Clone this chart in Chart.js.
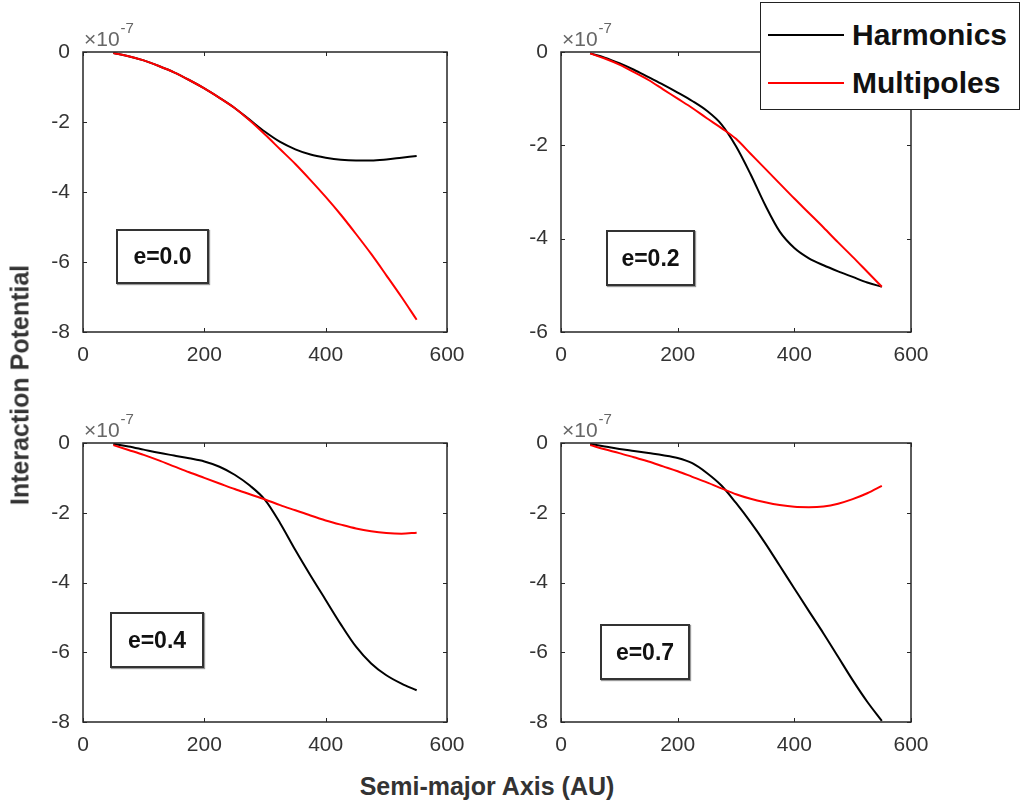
<!DOCTYPE html>
<html>
<head>
<meta charset="utf-8">
<script src="https://cdn.jsdelivr.net/npm/chart.js@4"></script>
<style>
  body{margin:0;background:#fff;width:1024px;height:807px;position:relative;overflow:hidden;font-family:'Liberation Sans',Arial,sans-serif;}
  canvas{position:absolute;}
  .ecc{position:absolute;border:2px solid #333;box-sizing:border-box;background:#fff;font-weight:bold;font-size:23px;color:#111;display:flex;align-items:center;justify-content:center;box-shadow:1px 1px 1px #999;}
  #legend{position:absolute;left:760px;top:2px;width:260px;height:108px;box-sizing:border-box;border:1.5px solid #222;background:#fff;z-index:5;}
  #legend .row{position:absolute;left:0;height:40px;width:100%;}
  #legend .ln{position:absolute;left:7px;width:76px;height:2px;top:19px;}
  #legend .tx{position:absolute;left:91px;top:0;line-height:40px;font-size:30px;font-weight:bold;color:#111;white-space:nowrap;}
  .axt{position:absolute;font-weight:bold;font-size:25px;color:#333;white-space:nowrap;}
</style>
</head>
<body>
<canvas id="c0" width="474" height="365" style="left:3px;top:12px"></canvas>
<canvas id="c1" width="460" height="365" style="left:481px;top:12px"></canvas>
<canvas id="c2" width="474" height="364" style="left:3px;top:403px"></canvas>
<canvas id="c3" width="460" height="364" style="left:481px;top:403px"></canvas>
<div id="legend"></div>
<div class="axt" id="xt" style="left:487px;top:786px;transform:translate(-50%,-50%)">Semi-major Axis (AU)</div>
<div class="axt" id="yt" style="left:20px;top:385px;transform:translate(-50%,-50%) rotate(-90deg)">Interaction Potential</div>
<script>
/* ── DATA ── */
const au = [50,75,100,125,150,175,200,225,250,275,300,325,350,375,400,425,450,475,500,525,550];

const harmE00 = [-0.03,-0.12,-0.24,-0.40,-0.58,-0.80,-1.04,-1.31,-1.60,-1.94,-2.28,-2.57,-2.78,-2.93,-3.02,-3.08,-3.10,-3.10,-3.07,-3.02,-2.97];
const multE00 = [-0.03,-0.12,-0.24,-0.40,-0.58,-0.80,-1.04,-1.31,-1.60,-1.96,-2.36,-2.78,-3.20,-3.66,-4.14,-4.65,-5.20,-5.77,-6.38,-7.00,-7.65];

const harmE02 = [-0.03,-0.12,-0.24,-0.38,-0.54,-0.70,-0.87,-1.05,-1.26,-1.55,-2.02,-2.62,-3.28,-3.85,-4.20,-4.42,-4.57,-4.70,-4.82,-4.94,-5.03];
const multE02 = [-0.03,-0.14,-0.27,-0.43,-0.60,-0.80,-1.00,-1.20,-1.42,-1.63,-1.86,-2.18,-2.50,-2.82,-3.14,-3.45,-3.76,-4.08,-4.39,-4.71,-5.03];

const harmE04 = [-0.03,-0.10,-0.19,-0.28,-0.36,-0.44,-0.53,-0.68,-0.91,-1.22,-1.63,-2.30,-3.07,-3.80,-4.50,-5.20,-5.84,-6.32,-6.66,-6.90,-7.09];
const multE04 = [-0.06,-0.20,-0.34,-0.50,-0.67,-0.84,-1.00,-1.16,-1.32,-1.47,-1.62,-1.78,-1.93,-2.08,-2.22,-2.34,-2.45,-2.53,-2.58,-2.60,-2.57];

const harmE07 = [-0.03,-0.10,-0.17,-0.23,-0.29,-0.35,-0.43,-0.58,-0.86,-1.22,-1.72,-2.27,-2.87,-3.52,-4.17,-4.82,-5.46,-6.13,-6.80,-7.42,-7.97];
const multE07 = [-0.06,-0.18,-0.29,-0.41,-0.53,-0.67,-0.81,-0.97,-1.13,-1.30,-1.47,-1.60,-1.70,-1.78,-1.83,-1.84,-1.82,-1.74,-1.61,-1.44,-1.23];

const seriesNames = ['Harmonics','Multipoles'];
const seriesColors = ['#000000','#ff0000'];
const eccLabels = ['e=0.0','e=0.2','e=0.4','e=0.7'];
const yMins = [-8,-6,-8,-8];
const xMax = 600, xStep = 200, yStep = 2;
const expLabel = ['×10','-7'];

const panels = [
  [harmE00, multE00],
  [harmE02, multE02],
  [harmE04, multE04],
  [harmE07, multE07]
];

/* ── ECC BOXES (pixel placement) ── */
const eccBoxes = [[116,229,93,55],[606,230,89,56],[110,612,94,56],[600,624,90,56]];
eccLabels.forEach((t,i)=>{
  const d=document.createElement('div');
  d.className='ecc';
  const b=eccBoxes[i];
  d.style.cssText=`left:${b[0]}px;top:${b[1]}px;width:${b[2]}px;height:${b[3]}px`;
  d.textContent=t;
  document.body.appendChild(d);
});

/* ── LEGEND ── */
const lg=document.getElementById('legend');
seriesNames.forEach((n,i)=>{
  const r=document.createElement('div');
  r.className='row';
  r.style.top=(12+i*48)+'px';
  r.innerHTML=`<div class="ln" style="background:${seriesColors[i]}"></div><div class="tx">${n}</div>`;
  lg.appendChild(r);
});

/* ── CHARTS ── */
Chart.defaults.font.family="'Liberation Sans', Arial, sans-serif";

const boxPlugin = {
  id:'box',
  afterDraw(chart){
    const {ctx, chartArea:a, scales:{x,y}} = chart;
    ctx.save();
    ctx.strokeStyle='#262626';
    ctx.lineWidth=1.5;
    ctx.strokeRect(a.left, a.top, a.right-a.left, a.bottom-a.top);
    ctx.lineWidth=1;
    ctx.beginPath();
    x.ticks.forEach(t=>{
      const px=Math.round(x.getPixelForValue(t.value))+0.5;
      ctx.moveTo(px,a.bottom); ctx.lineTo(px,a.bottom-4);
      ctx.moveTo(px,a.top); ctx.lineTo(px,a.top+4);
    });
    y.ticks.forEach(t=>{
      const py=Math.round(y.getPixelForValue(t.value))+0.5;
      ctx.moveTo(a.left,py); ctx.lineTo(a.left+4,py);
      ctx.moveTo(a.right,py); ctx.lineTo(a.right-4,py);
    });
    ctx.stroke();
    // exponent
    ctx.fillStyle='#666';
    ctx.textBaseline='alphabetic';
    ctx.font="21px 'Liberation Sans', Arial, sans-serif";
    ctx.fillText(expLabel[0], a.left+1, a.top-6);
    const w=ctx.measureText(expLabel[0]).width;
    ctx.font="15px 'Liberation Sans', Arial, sans-serif";
    ctx.fillText(expLabel[1], a.left+2+w, a.top-19);
    ctx.restore();
  }
};

panels.forEach((p,i)=>{
  new Chart(document.getElementById('c'+i),{
    type:'line',
    data:{
      datasets:p.map((vals,k)=>({
        label:seriesNames[k],
        data:au.map((a,j)=>({x:a,y:vals[j]})),
        borderColor:seriesColors[k],
        borderWidth:2,
        pointRadius:0,
        cubicInterpolationMode:'monotone',
        fill:false
      })).reverse()
    },
    options:{
      responsive:false,
      animation:false,
      devicePixelRatio:1,
      layout:{padding:{left:0,top:40,right:30,bottom:0}},
      plugins:{legend:{display:false},tooltip:{enabled:false}},
      scales:{
        x:{type:'linear',min:0,max:xMax,
          ticks:{stepSize:xStep,padding:3,color:'#333',font:{size:21},maxRotation:0},
          grid:{display:false},border:{display:false},
          afterFit:s=>{s.height=45;}},
        y:{min:yMins[i],max:0,
          ticks:{stepSize:yStep,padding:5,color:'#333',font:{size:21}},
          grid:{display:false},border:{display:false},
          afterFit:s=>{s.width=80;}}
      }
    },
    plugins:[boxPlugin]
  });
});
</script>
</body>
</html>
